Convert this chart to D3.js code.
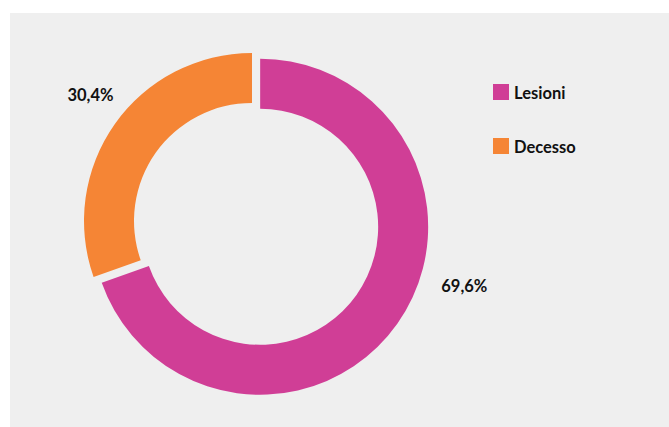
<!DOCTYPE html>
<html>
<head>
<meta charset="utf-8">
<script src="https://cdn.jsdelivr.net/npm/d3@7"></script>
<style>
  html, body { margin: 0; padding: 0; background: #ffffff; }
  svg { display: block; }
  text { font-family: Lato, "Open Sans", sans-serif; font-weight: bold; fill: #111111; }
</style>
</head>
<body>
<svg id="chart" width="669" height="427"></svg>
<script>
// Share of outcomes
const categories = ["Lesioni", "Decesso"];
const values = [69.6, 30.4];
const valueLabels = ["69,6%", "30,4%"];
const colors = ["#D03E96", "#F58535"];

const width = 669, height = 427;
const svg = d3.select("#chart");

// panel background
svg.append("rect")
  .attr("x", 10).attr("y", 13)
  .attr("width", width - 10).attr("height", height - 13)
  .attr("fill", "#EFEFEF");

const cx = 252, cy = 221;
const outerR = 168, innerR = 118;
const explode = [10, 0];          // radial offset of each slice
const labelAngle = [107, -52];    // label direction, degrees clockwise from top
const labelR = [222, 205];

const pie = d3.pie().sort(null).value(d => d)
  .startAngle(0).endAngle(2 * Math.PI);
const arcs = pie(values);
const arc = d3.arc().innerRadius(innerR).outerRadius(outerR);

const g = svg.append("g").attr("transform", `translate(${cx},${cy})`);

g.selectAll("path.slice")
  .data(arcs)
  .join("path")
  .attr("class", "slice")
  .attr("fill", (d, i) => colors[i])
  .attr("transform", (d, i) => {
    const mid = (d.startAngle + d.endAngle) / 2;
    return `translate(${Math.sin(mid) * explode[i]},${-Math.cos(mid) * explode[i]})`;
  })
  .attr("d", arc);

// value labels
g.selectAll("text.val")
  .data(arcs)
  .join("text")
  .attr("class", "val")
  .attr("text-anchor", "middle")
  .attr("font-size", 16.5)
  .attr("x", (d, i) => Math.sin(labelAngle[i] * Math.PI / 180) * labelR[i])
  .attr("y", (d, i) => -Math.cos(labelAngle[i] * Math.PI / 180) * labelR[i] + 6)
  .text((d, i) => valueLabels[i]);

// legend
const legend = svg.append("g").attr("transform", "translate(493,84)");
const items = legend.selectAll("g")
  .data(categories)
  .join("g")
  .attr("transform", (d, i) => `translate(0,${i * 54})`);
items.append("rect")
  .attr("width", 16).attr("height", 16)
  .attr("fill", (d, i) => colors[i]);
items.append("text")
  .attr("x", 21).attr("y", 15)
  .attr("font-size", 16.5)
  .text(d => d);
</script>
</body>
</html>
